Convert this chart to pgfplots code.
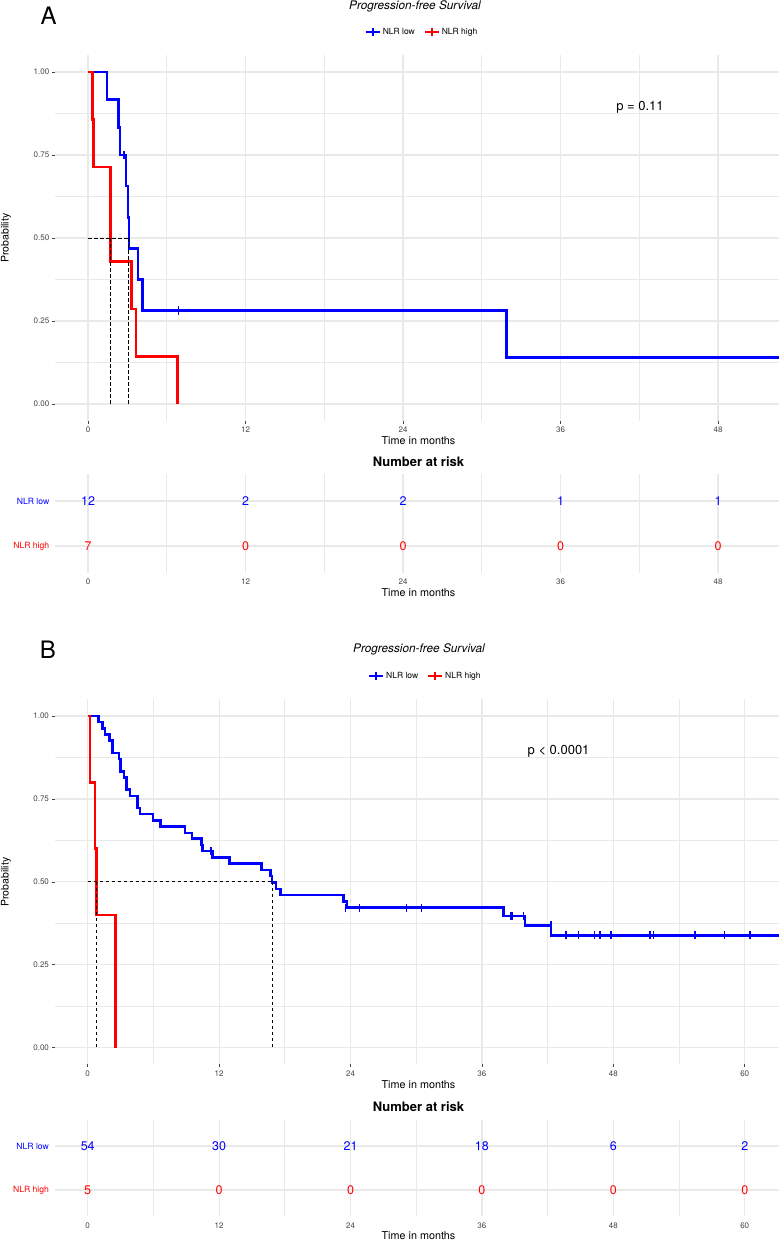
\documentclass[border=0pt]{standalone}
\usepackage{pgfplots}
\pgfplotsset{compat=1.18}
\usepackage{fontspec}
\setmainfont{TeX Gyre Heros}
\definecolor{gridc}{RGB}{233,233,233}
\definecolor{tickc}{RGB}{70,70,70}
\newcommand{\fsz}[1]{\fontsize{#1bp}{#1bp}\selectfont}

\pgfplotsset{
  km/.style={scale only axis, width=724.1bp, height=365.2bp,
    ymin=-0.05, ymax=1.05,
    ytick={0,0.25,0.5,0.75,1}, yticklabels={0.00,0.25,0.50,0.75,1.00},
    minor ytick={0.125,0.375,0.625,0.875},
    grid=both, major grid style={gridc, line width=1.2bp},
    minor grid style={gridc, line width=0.7bp},
    axis line style={draw=none},
    tick align=outside, major tick length=3bp, minor tick length=0bp,
    tick style={tickc, line width=0.6bp},
    xtick pos=left, ytick pos=left,
    ticklabel style={font=\fsz{8}, text=tickc, inner sep=0pt},
    xticklabel shift=3.2bp, yticklabel shift=2.7bp,
    legend columns=2,
    legend style={draw=none, fill=none, font=\fsz{8.5}, anchor=center,
      /tikz/every even column/.append style={column sep=7bp}},
  },
  risk/.style={scale only axis, width=724.1bp,
    ymin=0.4, ymax=2.6, ytick={1,2},
    yticklabels={\textcolor{red}{NLR high},\textcolor{blue}{NLR low}},
    xmajorgrids, xminorgrids, ymajorgrids,
    major grid style={gridc, line width=1.2bp},
    minor grid style={gridc, line width=0.7bp},
    axis line style={draw=none},
    major tick length=0bp, minor tick length=0bp,
    xtick pos=left, ytick pos=left,
    ticklabel style={font=\fsz{8}, text=tickc, inner sep=0pt},
    yticklabel style={font=\fsz{8.6}},
    xticklabel shift=6bp, yticklabel shift=5.7bp,
  },
  censor/.style={only marks, mark=|, mark size=4.2bp, mark options={line width=1.5bp, solid}, forget plot},
  medline/.style={black, line width=1bp, dash pattern=on 3.5bp off 2.5bp, forget plot},
  rnum/.style={draw=none, mark=none, forget plot, nodes near coords, point meta=explicit symbolic,
    every node near coord/.style={anchor=center, font=\fsz{12.5}, text=#1}},
}

\begin{document}
\begin{tikzpicture}
\path[use as bounding box] (0,0) rectangle (779bp,-1241bp);

% ===================== Panel A =====================
\node[font=\fsz{24}] at (48.7bp,-16bp) {A};
\node[font=\itshape\fsz{11.8}] at (415bp,-6.5bp) {Progression-free Survival};
\node[rotate=90, font=\fsz{10.5}] at (6bp,-238bp) {Probability};
\node[font=\fsz{10.8}] at (418.5bp,-441bp) {Time in months};

\begin{axis}[km, at={(55.1bp,-55.4bp)}, anchor=north west,
  xmin=-2.51, xmax=52.66,
  xtick={0,12,24,36,48}, xticklabels={0,12,24,36,48},
  minor xtick={6,18,30,42},
  legend style={at={(axis description cs:0.5067,1.0649)}}]
\addplot[blue, line width=2.5bp, const plot,
  legend image code/.code={\draw[blue, line width=2bp] (0bp,0bp)--(14bp,0bp); \draw[blue, line width=1.5bp] (7bp,-4bp)--(7bp,4bp);}]
  coordinates {(0,1)(1.45,0.9167)(2.33,0.8333)(2.45,0.75)(2.9,0.6563)(3.05,0.5625)(3.12,0.4688)(3.8,0.375)(4.15,0.2813)(31.9,0.1406)(52.66,0.1406)};
\addlegendentry{NLR low}
\addplot[red, line width=2.5bp, const plot,
  legend image code/.code={\draw[red, line width=2bp] (0bp,0bp)--(14bp,0bp); \draw[red, line width=1.5bp] (7bp,-4bp)--(7bp,4bp);}]
  coordinates {(0,1)(0.35,0.8571)(0.42,0.7143)(1.7,0.4286)(3.3,0.2857)(3.67,0.1429)(6.8,0)};
\addlegendentry{NLR high}
\addplot[blue, censor] coordinates {(2.75,0.75)(6.9,0.2813)};
\addplot[medline] coordinates {(0,0.5)(3.12,0.5)};
\addplot[medline] coordinates {(1.7,0.5)(1.7,0)};
\addplot[medline] coordinates {(3.12,0.5)(3.12,0)};
\node[font=\fsz{13}] at (axis cs:42.05,0.895) {p = 0.11};
\end{axis}

\node[font=\bfseries\fsz{13}] at (418.5bp,-462bp) {Number at risk};
\begin{axis}[risk, at={(55.1bp,-474bp)}, anchor=north west, height=99bp,
  xmin=-2.51, xmax=52.66,
  xtick={0,12,24,36,48}, xticklabels={0,12,24,36,48},
  minor xtick={6,18,30,42}]
\addplot[rnum=blue] table[row sep=\\, meta=n] {x y n\\ 0 2 12\\ 12 2 2\\ 24 2 2\\ 36 2 1\\ 48 2 1\\};
\addplot[rnum=red] table[row sep=\\, meta=n] {x y n\\ 0 1 7\\ 12 1 0\\ 24 1 0\\ 36 1 0\\ 48 1 0\\};
\end{axis}
\node[font=\fsz{10.8}] at (418.5bp,-593bp) {Time in months};

% ===================== Panel B =====================
\node[font=\fsz{24}] at (48bp,-650bp) {B};
\node[font=\itshape\fsz{11.8}] at (419bp,-649bp) {Progression-free Survival};
\node[rotate=90, font=\fsz{10.5}] at (6bp,-882bp) {Probability};
\node[font=\fsz{10.8}] at (418.5bp,-1085bp) {Time in months};

\begin{axis}[km, at={(54.8bp,-699.4bp)}, anchor=north west, height=364.9bp, width=724.2bp,
  xmin=-3.006, xmax=63.13,
  xtick={0,12,24,36,48,60}, xticklabels={0,12,24,36,48,60},
  minor xtick={6,18,30,42,54},
  legend style={at={(axis description cs:0.5118,1.065)}}]
\addplot[blue, line width=2.5bp, const plot,
  legend image code/.code={\draw[blue, line width=2bp] (0bp,0bp)--(14bp,0bp); \draw[blue, line width=1.5bp] (7bp,-4bp)--(7bp,4bp);}]
  coordinates {(0,1)(0.97,0.9815)(1.37,0.963)(1.6,0.944)(1.97,0.926)(2.25,0.889)(2.86,0.870)(3.0,0.833)(3.3,0.815)(3.55,0.778)(3.86,0.759)(4.53,0.722)(4.77,0.704)(5.98,0.685)(6.65,0.667)(8.87,0.648)(9.54,0.630)(10.4,0.611)(10.5,0.593)(11.4,0.574)(12.97,0.555)(15.86,0.536)(16.7,0.517)(16.85,0.498)(17.2,0.479)(17.6,0.460)(23.36,0.441)(23.7,0.422)(37.95,0.397)(39.95,0.368)(42.3,0.339)(63.13,0.339)};
\addlegendentry{NLR low}
\addplot[red, line width=2.5bp, const plot,
  legend image code/.code={\draw[red, line width=2bp] (0bp,0bp)--(14bp,0bp); \draw[red, line width=1.5bp] (7bp,-4bp)--(7bp,4bp);}]
  coordinates {(0,1)(0.2,0.8)(0.67,0.6)(0.82,0.4)(2.52,0)};
\addlegendentry{NLR high}
\addplot[blue, censor] coordinates {(11.24,0.593)(23.55,0.422)(24.8,0.422)(29.1,0.422)(30.5,0.422)(38.65,0.397)(38.8,0.397)(39.8,0.397)(42.3,0.368)(43.66,0.339)(44.8,0.339)(46.3,0.339)(46.77,0.339)(47.77,0.339)(51.35,0.339)(51.65,0.339)(55.45,0.339)(58.16,0.339)(60.47,0.339)};
\addplot[medline] coordinates {(0,0.5)(16.85,0.5)};
\addplot[medline] coordinates {(0.82,0.5)(0.82,0)};
\addplot[medline] coordinates {(16.85,0.5)(16.85,0)};
\node[font=\fsz{13}] at (axis cs:43.0,0.895) {p < 0.0001};
\end{axis}

\node[font=\bfseries\fsz{13}] at (418.5bp,-1107bp) {Number at risk};
\begin{axis}[risk, at={(54.8bp,-1119.6bp)}, anchor=north west, height=96.8bp, width=724.2bp,
  xmin=-3.006, xmax=63.13,
  xtick={0,12,24,36,48,60}, xticklabels={0,12,24,36,48,60},
  minor xtick={6,18,30,42,54}]
\addplot[rnum=blue] table[row sep=\\, meta=n] {x y n\\ 0 2 54\\ 12 2 30\\ 24 2 21\\ 36 2 18\\ 48 2 6\\ 60 2 2\\};
\addplot[rnum=red] table[row sep=\\, meta=n] {x y n\\ 0 1 5\\ 12 1 0\\ 24 1 0\\ 36 1 0\\ 48 1 0\\ 60 1 0\\};
\end{axis}
\node[font=\fsz{10.8}] at (418.5bp,-1236bp) {Time in months};
\end{tikzpicture}
\end{document}
